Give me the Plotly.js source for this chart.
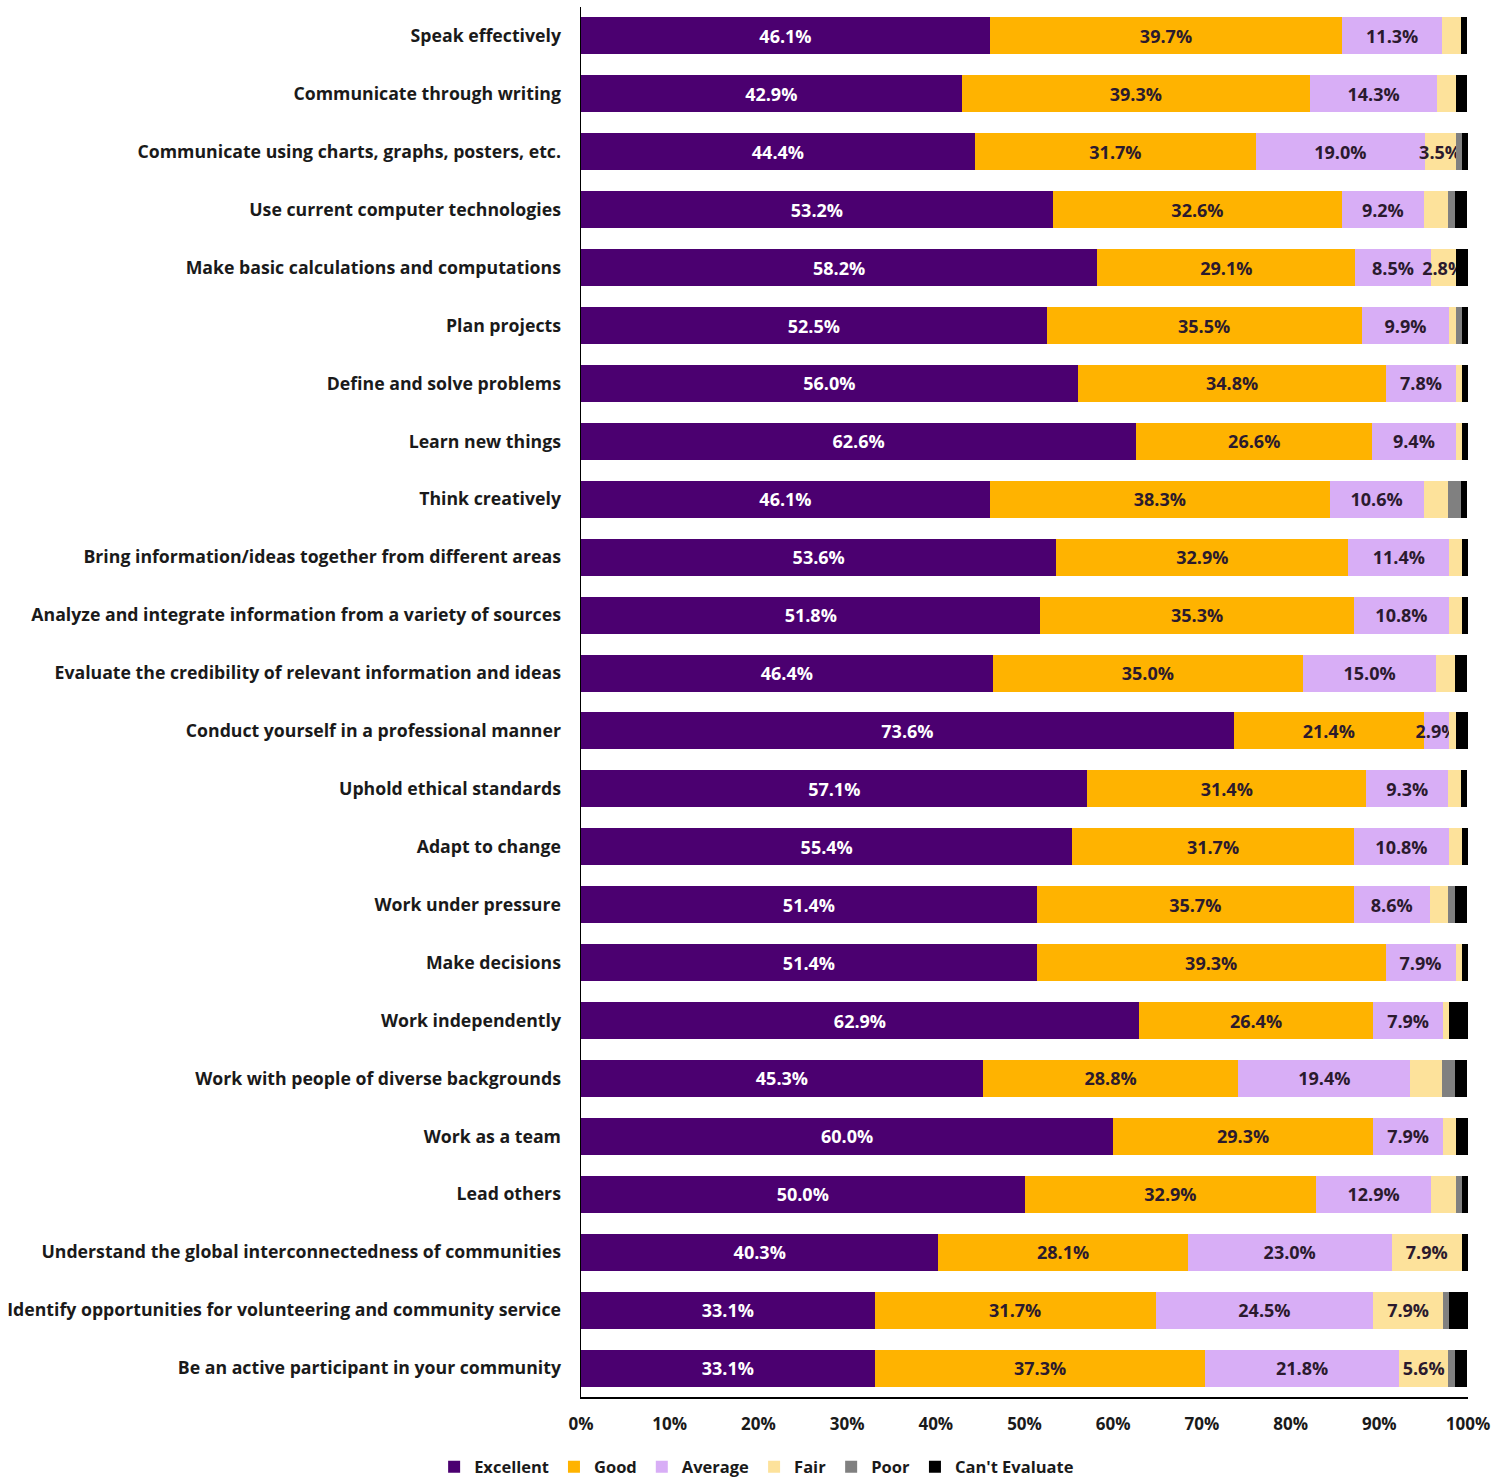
<!DOCTYPE html>
<html>
<head>
<meta charset="utf-8">
<script src="https://cdn.plot.ly/plotly-3.0.1.min.js"></script>
<style>
  html, body { margin: 0; padding: 0; background: #ffffff; }
  #chart { width: 1510px; height: 1477px; }
</style>
</head>
<body>
<div id="chart"></div>
<script>
const categories = [
  "Speak effectively",
  "Communicate through writing",
  "Communicate using charts, graphs, posters, etc.",
  "Use current computer technologies",
  "Make basic calculations and computations",
  "Plan projects",
  "Define and solve problems",
  "Learn new things",
  "Think creatively",
  "Bring information/ideas together from different areas",
  "Analyze and integrate information from a variety of sources",
  "Evaluate the credibility of relevant information and ideas",
  "Conduct yourself in a professional manner",
  "Uphold ethical standards",
  "Adapt to change",
  "Work under pressure",
  "Make decisions",
  "Work independently",
  "Work with people of diverse backgrounds",
  "Work as a team",
  "Lead others",
  "Understand the global interconnectedness of communities",
  "Identify opportunities for volunteering and community service",
  "Be an active participant in your community"
];

const excellent = [46.1, 42.9, 44.4, 53.2, 58.2, 52.5, 56.0, 62.6, 46.1, 53.6, 51.8, 46.4, 73.6, 57.1, 55.4, 51.4, 51.4, 62.9, 45.3, 60.0, 50.0, 40.3, 33.1, 33.1];
const good      = [39.7, 39.3, 31.7, 32.6, 29.1, 35.5, 34.8, 26.6, 38.3, 32.9, 35.3, 35.0, 21.4, 31.4, 31.7, 35.7, 39.3, 26.4, 28.8, 29.3, 32.9, 28.1, 31.7, 37.3];
const average   = [11.3, 14.3, 19.0, 9.2, 8.5, 9.9, 7.8, 9.4, 10.6, 11.4, 10.8, 15.0, 2.9, 9.3, 10.8, 8.6, 7.9, 7.9, 19.4, 7.9, 12.9, 23.0, 24.5, 21.8];
const fair      = [2.1, 2.1, 3.5, 2.8, 2.8, 0.7, 0.7, 0.7, 2.8, 1.4, 1.4, 2.1, 0.7, 1.4, 1.4, 2.1, 0.7, 0.7, 3.6, 1.4, 2.8, 7.9, 7.9, 5.6];
const poor      = [0, 0, 0.7, 0.7, 0, 0.7, 0, 0, 1.4, 0, 0, 0, 0, 0, 0, 0.7, 0, 0, 1.4, 0, 0.7, 0, 0.7, 0.7];
const cantEval  = [0.7, 1.3, 0.7, 1.4, 1.4, 0.7, 0.7, 0.7, 0.7, 0.7, 0.7, 1.4, 1.4, 0.7, 0.7, 1.4, 0.7, 2.1, 1.4, 1.4, 0.7, 0.7, 2.1, 1.4];

// which Fair segments carry a data label in the original
const fairLabelShown = [false, false, true, false, true, false, false, false, false, false, false, false, false, false, false, false, false, false, false, false, false, true, true, true];

const xTickVals = [0, 10, 20, 30, 40, 50, 60, 70, 80, 90, 100];
const xTickText = ["0%", "10%", "20%", "30%", "40%", "50%", "60%", "70%", "80%", "90%", "100%"];

const FONT = "'Open Sans', 'DejaVu Sans', sans-serif";
const pct = v => v.toFixed(1) + "%";

function series(name, values, color, textColor, labels) {
  return {
    type: "bar",
    orientation: "h",
    name: name,
    y: categories,
    x: values,
    marker: { color: color, line: { width: 0 } },
    text: labels,
    textposition: "inside",
    insidetextanchor: "middle",
    constraintext: "none",
    textangle: 0,
    textfont: { family: FONT, size: 18, color: textColor, weight: "bold" },
    hoverinfo: "name+x"
  };
}

const traces = [
  series("Excellent", excellent, "#4b0070", "#ffffff", excellent.map(pct)),
  series("Good", good, "#ffb300", "#2b1a2e", good.map(pct)),
  series("Average", average, "#d8aef6", "#2b1a2e", average.map(pct)),
  series("Fair", fair, "#fde29b", "#2b1a2e", fair.map((v, i) => fairLabelShown[i] ? pct(v) : "")),
  series("Poor", poor, "#808080", "#2b1a2e", poor.map(() => "")),
  series("Can't Evaluate", cantEval, "#000000", "#ffffff", cantEval.map(() => ""))
];

const layout = {
  width: 1510,
  height: 1477,
  paper_bgcolor: "#ffffff",
  plot_bgcolor: "#ffffff",
  margin: { l: 581, r: 42, t: 7, b: 80, pad: 0, autoexpand: false },
  barmode: "stack",
  bargap: 0.36,
  showlegend: true,
  font: { family: FONT, color: "#1a1a1a" },
  xaxis: {
    range: [0, 100],
    tickvals: xTickVals,
    ticktext: xTickText,
    showgrid: false,
    zeroline: false,
    showline: true,
    linecolor: "#000000",
    linewidth: 1.5,
    ticks: "",
    ticklabelstandoff: 11,
    tickfont: { family: FONT, size: 17, color: "#1a1a1a", weight: "bold" },
    fixedrange: true
  },
  yaxis: {
    autorange: "reversed",
    showgrid: false,
    zeroline: false,
    showline: true,
    linecolor: "#000000",
    linewidth: 1.5,
    ticks: "",
    ticklabelstandoff: 15,
    tickfont: { family: FONT, size: 17.7, color: "#1a1a1a", weight: "bold" },
    fixedrange: true
  },
  legend: {
    orientation: "h",
    xref: "paper",
    x: 0.198,
    xanchor: "center",
    yref: "container",
    y: 0.0068,
    yanchor: "middle",
    traceorder: "normal",
    itemwidth: 30,
    font: { family: FONT, size: 16.5, color: "#1a1a1a", weight: "bold" },
    bgcolor: "rgba(0,0,0,0)"
  }
};

Plotly.newPlot("chart", traces, layout, { displayModeBar: false, staticPlot: true });
</script>
</body>
</html>
